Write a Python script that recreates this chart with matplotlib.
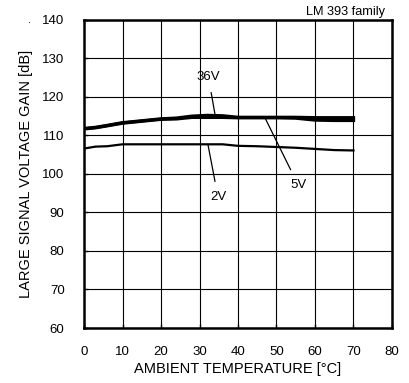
import matplotlib
matplotlib.use("Agg")
import matplotlib.pyplot as plt

plt.rcParams['font.family'] = ['Liberation Sans', 'DejaVu Sans']

# data
temp = [0, 3, 6, 10, 13, 17, 20, 24, 28, 32, 36, 40, 45, 50, 55, 60, 65, 70]
gain_36v = [111.8, 112.1, 112.6, 113.3, 113.6, 114.0, 114.3, 114.5, 115.0, 115.2, 115.1, 114.7, 114.7, 114.7, 114.7, 114.6, 114.6, 114.6]
gain_5v = [111.7, 112.0, 112.5, 113.2, 113.5, 113.9, 114.2, 114.3, 114.7, 114.7, 114.7, 114.6, 114.6, 114.6, 114.5, 114.0, 113.9, 113.9]
gain_2v = [106.6, 107.1, 107.2, 107.7, 107.7, 107.7, 107.7, 107.7, 107.7, 107.7, 107.7, 107.3, 107.2, 107.0, 106.8, 106.5, 106.2, 106.1]

x_ticks = [0, 10, 20, 30, 40, 50, 60, 70, 80]
y_ticks = [60, 70, 80, 90, 100, 110, 120, 130, 140]

fig = plt.figure(figsize=(4.10, 3.83), dpi=100)
ax = fig.add_axes([0.205, 0.1436, 0.751, 0.8044])

ax.plot(temp, gain_5v, color='black', lw=2.4)
ax.plot(temp, gain_36v, color='black', lw=2.4)
ax.plot(temp, gain_2v, color='black', lw=1.6)

ax.set_xlim(0, 80)
ax.set_ylim(60, 140)
ax.set_xticks(x_ticks)
ax.set_yticks(y_ticks)
ax.grid(True, color='black', lw=0.8)
ax.tick_params(direction='in', length=3, width=1, labelsize=9.5)
ax.tick_params(axis='y', pad=14)
ax.tick_params(axis='x', pad=13)
for s in ax.spines.values():
    s.set_linewidth(1.8)

ax.set_xlabel('AMBIENT TEMPERATURE [°C]', fontsize=10.5, labelpad=3)
ax.set_ylabel('LARGE SIGNAL VOLTAGE GAIN [dB]', fontsize=10.5, labelpad=7)

# curve labels with leader lines
ax.annotate('36V', xy=(34, 115.6), xytext=(32.3, 125.2), fontsize=9.5,
            ha='center', va='center',
            arrowprops=dict(arrowstyle='-', color='black', lw=0.9, shrinkA=5, shrinkB=0))
ax.annotate('5V', xy=(47, 114.6), xytext=(55.6, 97.2), fontsize=9.5,
            ha='center', va='center',
            arrowprops=dict(arrowstyle='-', color='black', lw=0.9, shrinkA=5, shrinkB=0))
ax.annotate('2V', xy=(32.2, 107.6), xytext=(34.8, 94.0), fontsize=9.5,
            ha='center', va='center',
            arrowprops=dict(arrowstyle='-', color='black', lw=0.9, shrinkA=5, shrinkB=0))

fig.text(0.94, 0.969, 'LM 393 family', fontsize=9.2, ha='right', va='center')
fig.text(0.071, 0.948, '.', fontsize=8, ha='center', va='center')

fig.savefig('out.png', dpi=100)
